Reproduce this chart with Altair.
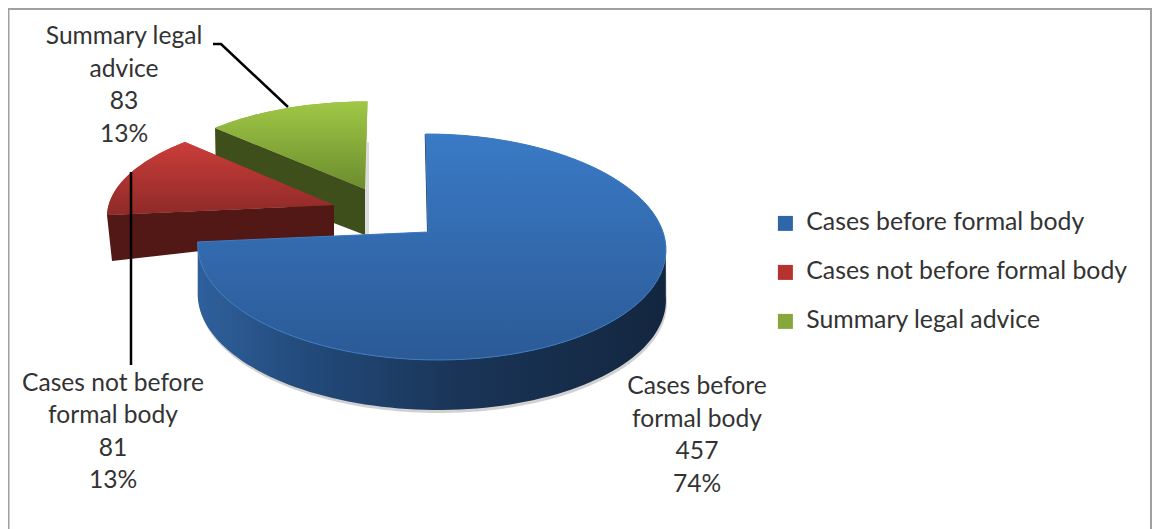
import math
import altair as alt

categories = ["Cases before formal body", "Cases not before formal body", "Summary legal advice"]
values = [457, 81, 83]
percent_labels = ["74%", "13%", "13%"]
label_lines = [["Cases before", "formal body"], ["Cases not before", "formal body"], ["Summary legal", "advice"]]
legend_colors = ["#2f66a8", "#b5322f", "#86a83a"]

FONT = "Lato"
TEXT = "#333333"

# ---- perspective projection of the pie's top disc, page pixels
CX, CY, RX, RY, K, SKEW = 431, 232, 232, 111, 0.1327, -6
total = sum(values)
sweeps = [v / total * 360 for v in values]
starts = [sum(sweeps[:i]) for i in range(3)]


def rim(deg, dx=0, dy=0):
    t = math.radians(deg)
    u, v = math.sin(t), math.cos(t)
    d = 1 + K * v
    return (CX + RX * u / d + SKEW * v / d + dx, CY - RY * v / d + dy)


def arc(a, b, dx=0, dy=0, n=90):
    return [rim(a + (b - a) * i / n, dx, dy) for i in range(n + 1)]


def fit_arc(points, p0, p1):
    """Stretch an arc of the disc so its two ends land on the exploded slice's corners."""
    (x0, y0), (x1, y1) = points[0], points[-1]
    sx = (p1[0] - p0[0]) / (x1 - x0)
    sy = (p1[1] - p0[1]) / (y1 - y0)
    return [(p0[0] + (x - x0) * sx, p0[1] + (y - y0) * sy) for x, y in points]


def local(points):
    return [[round(x - 8, 2), round(y - 8, 2)] for x, y in points]


def polygon(points, name=""):
    pts = local(points)
    pts.append(pts[0])
    return {"type": "Feature", "properties": {"name": name},
            "geometry": {"type": "Polygon", "coordinates": [pts]}}


def polyline(points):
    return {"type": "Feature", "properties": {},
            "geometry": {"type": "LineString", "coordinates": local(points)}}


def grad(stops, x1=0, y1=0, x2=0, y2=1):
    return alt.LinearGradient(
        gradient="linear", x1=x1, y1=y1, x2=x2, y2=y2,
        stops=[alt.GradientStop(color=c, offset=o) for o, c in stops])


PROJ = dict(type="identity", scale=1, translate=[0, 0])


def shape(features, **mark):
    return alt.Chart(alt.Data(values=features)).mark_geoshape(**mark).project(**PROJ)


# faces
blue_arc = arc(starts[0], starts[0] + sweeps[0])
red_arc = fit_arc(arc(starts[1], starts[1] + sweeps[1], n=30), (107, 215), (185, 142))
green_arc = fit_arc(arc(starts[2], starts[2] + sweeps[2], n=30), (215, 128), (367.5, 101.5))

blue_face = polygon([(428, 232)] + blue_arc, categories[0])
red_face = polygon([(334, 205)] + red_arc, categories[1])
green_face = polygon([(365, 189)] + green_arc, categories[2])

# walls
WALL_FROM = 97
wall_top = arc(WALL_FROM, starts[0] + sweeps[0])
wall_bottom = arc(WALL_FROM, starts[0] + sweeps[0], 0, 50)
blue_wall = polygon(wall_top + wall_bottom[::-1])
blue_shadow = polygon([(x + 1, y + 3) for x, y in wall_bottom] + wall_top[::-1])
red_wall = polygon([red_arc[0], (334, 205), (334, 236), (112, 261)])
green_wall = polygon([green_arc[0], (365, 189), (365, 235), (216, 178)])

base = alt.Chart(alt.Data(values=[blue_face, red_face, green_face])).mark_geoshape(strokeWidth=0).encode(
    color=alt.Color("properties.name:N",
                    scale=alt.Scale(domain=categories, range=legend_colors),
                    sort=categories,
                    legend=alt.Legend(
                        title=None, orient="none", legendX=765, legendY=203,
                        symbolType="square", symbolSize=225, symbolStrokeWidth=0,
                        labelFont=FONT, labelFontSize=24.8, labelColor=TEXT, labelLimit=420,
                        labelOffset=8.5, rowPadding=23))
).project(**PROJ)

layers = [
    # transparent feature spanning the whole canvas keeps the projection at 1:1
    shape([polyline([(8, 8), (1152, 529)])], filled=False, strokeOpacity=0),
    base,
    shape([blue_shadow], fill="#9a9a9a", opacity=0.45, strokeWidth=0),
    shape([polygon([(365, 142), (369, 142), (369, 235), (365, 235)])], fill="#dcdcdc", strokeWidth=0),
    shape([green_wall], fill="#3f4f1b", strokeWidth=0),
    shape([green_face], fill=grad([(0, "#a0c845"), (1, "#6c8c2e")]), strokeWidth=0),
    shape([red_wall], fill="#521815", strokeWidth=0),
    shape([red_face], fill=grad([(0, "#cb3d3a"), (1, "#8e2a28")]), strokeWidth=0),
    shape([blue_wall], fill=grad([(0, "#2f609c"), (0.22, "#234b7c"), (0.55, "#1a3558"), (1, "#13263f")], x2=1, y2=0), strokeWidth=0),
    shape([polyline([(425.7, 134), (428, 232)])], filled=False, stroke="#1a3558", strokeWidth=2),
    shape([blue_face], fill=grad([(0, "#3a7ac6"), (1, "#2b5a96")]), stroke="#3f7cc0", strokeWidth=1),
    # leader lines
    shape([polyline([(131, 172), (131, 365)])], filled=False, stroke="#000000", strokeWidth=2.5),
    shape([polyline([(213, 44), (221, 44), (288, 107)])], filled=False, stroke="#000000", strokeWidth=2.5),
    # frame: top, left, right only
    shape([polyline([(8.5, 529), (8.5, 9), (1151, 9), (1151, 529)])], filled=False, stroke="#a0a0a0", strokeWidth=2),
]

# data labels
label_pos = [(697, 375), (113, 371.5), (124, 25)]
for i, (x, y) in enumerate(label_pos):
    lines = label_lines[i] + [str(values[i]), percent_labels[i]]
    layers.append(
        alt.Chart(alt.Data(values=[{"lines": lines}])).mark_text(
            x=x - 8, y=y - 8, align="center", baseline="top", font=FONT, fontSize=24.6,
            color=TEXT, lineHeight=32.5
        ).encode(text="lines:N")
    )

chart = alt.layer(*layers).properties(
    width=1144, height=521, padding=0, autosize=alt.AutoSizeParams(type="none"),
    background="#ffffff"
).configure_view(stroke=None)

chart.save("out.html", embed_options={"renderer": "svg", "actions": False})
